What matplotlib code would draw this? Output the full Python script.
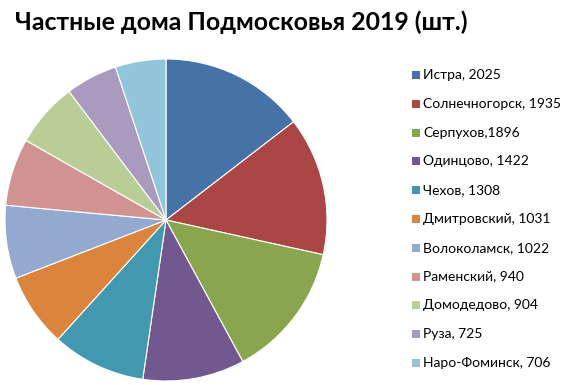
import matplotlib
matplotlib.use('Agg')
import matplotlib.pyplot as plt
from matplotlib.patches import Rectangle

plt.rcParams['font.family'] = ['Lato', 'DejaVu Sans']

cities = ['Истра, 2025', 'Солнечногорск, 1935', 'Серпухов,1896', 'Одинцово, 1422',
          'Чехов, 1308', 'Дмитровский, 1031', 'Волоколамск, 1022', 'Раменский, 940',
          'Домодедово, 904', 'Руза, 725', 'Наро-Фоминск, 706']
houses = [2025, 1935, 1896, 1422, 1308, 1031, 1022, 940, 904, 725, 706]
colors = ['#4572A7', '#AA4643', '#89A54E', '#71588F', '#4198AF', '#DB843D',
          '#93A9CF', '#D19392', '#B9CD96', '#A99BBD', '#92C5D9']

W, H = 565, 385
fig = plt.figure(figsize=(W / 100, H / 100), dpi=100)

# pie: center ~(166, 220) px, radius ~161 px
cx, cy, r = 166, 220, 161
ax = fig.add_axes([(cx - r) / W, (H - cy - r) / H, 2 * r / W, 2 * r / H])
ax.pie(houses, colors=colors, startangle=90, counterclock=False,
       wedgeprops={'edgecolor': 'white', 'linewidth': 0.8})
ax.set_xlim(-1, 1)
ax.set_ylim(-1, 1)
ax.axis('off')

fig.text(15 / W, 1 - 22 / H, 'Частные дома Подмосковья 2019 (шт.)',
         fontsize=17.9, fontweight='bold', va='center', ha='left')

# legend drawn by hand to match row spacing
for i, (lab, c) in enumerate(zip(cities, colors)):
    y = 75 + i * 28.8
    fig.patches.append(Rectangle((412 / W, 1 - (y + 4) / H), 8 / W, 8 / H,
                                 transform=fig.transFigure, facecolor=c, edgecolor='none'))
    fig.text(423 / W, 1 - y / H, lab, fontsize=10, va='center', ha='left')

fig.savefig('out.png', dpi=100)
